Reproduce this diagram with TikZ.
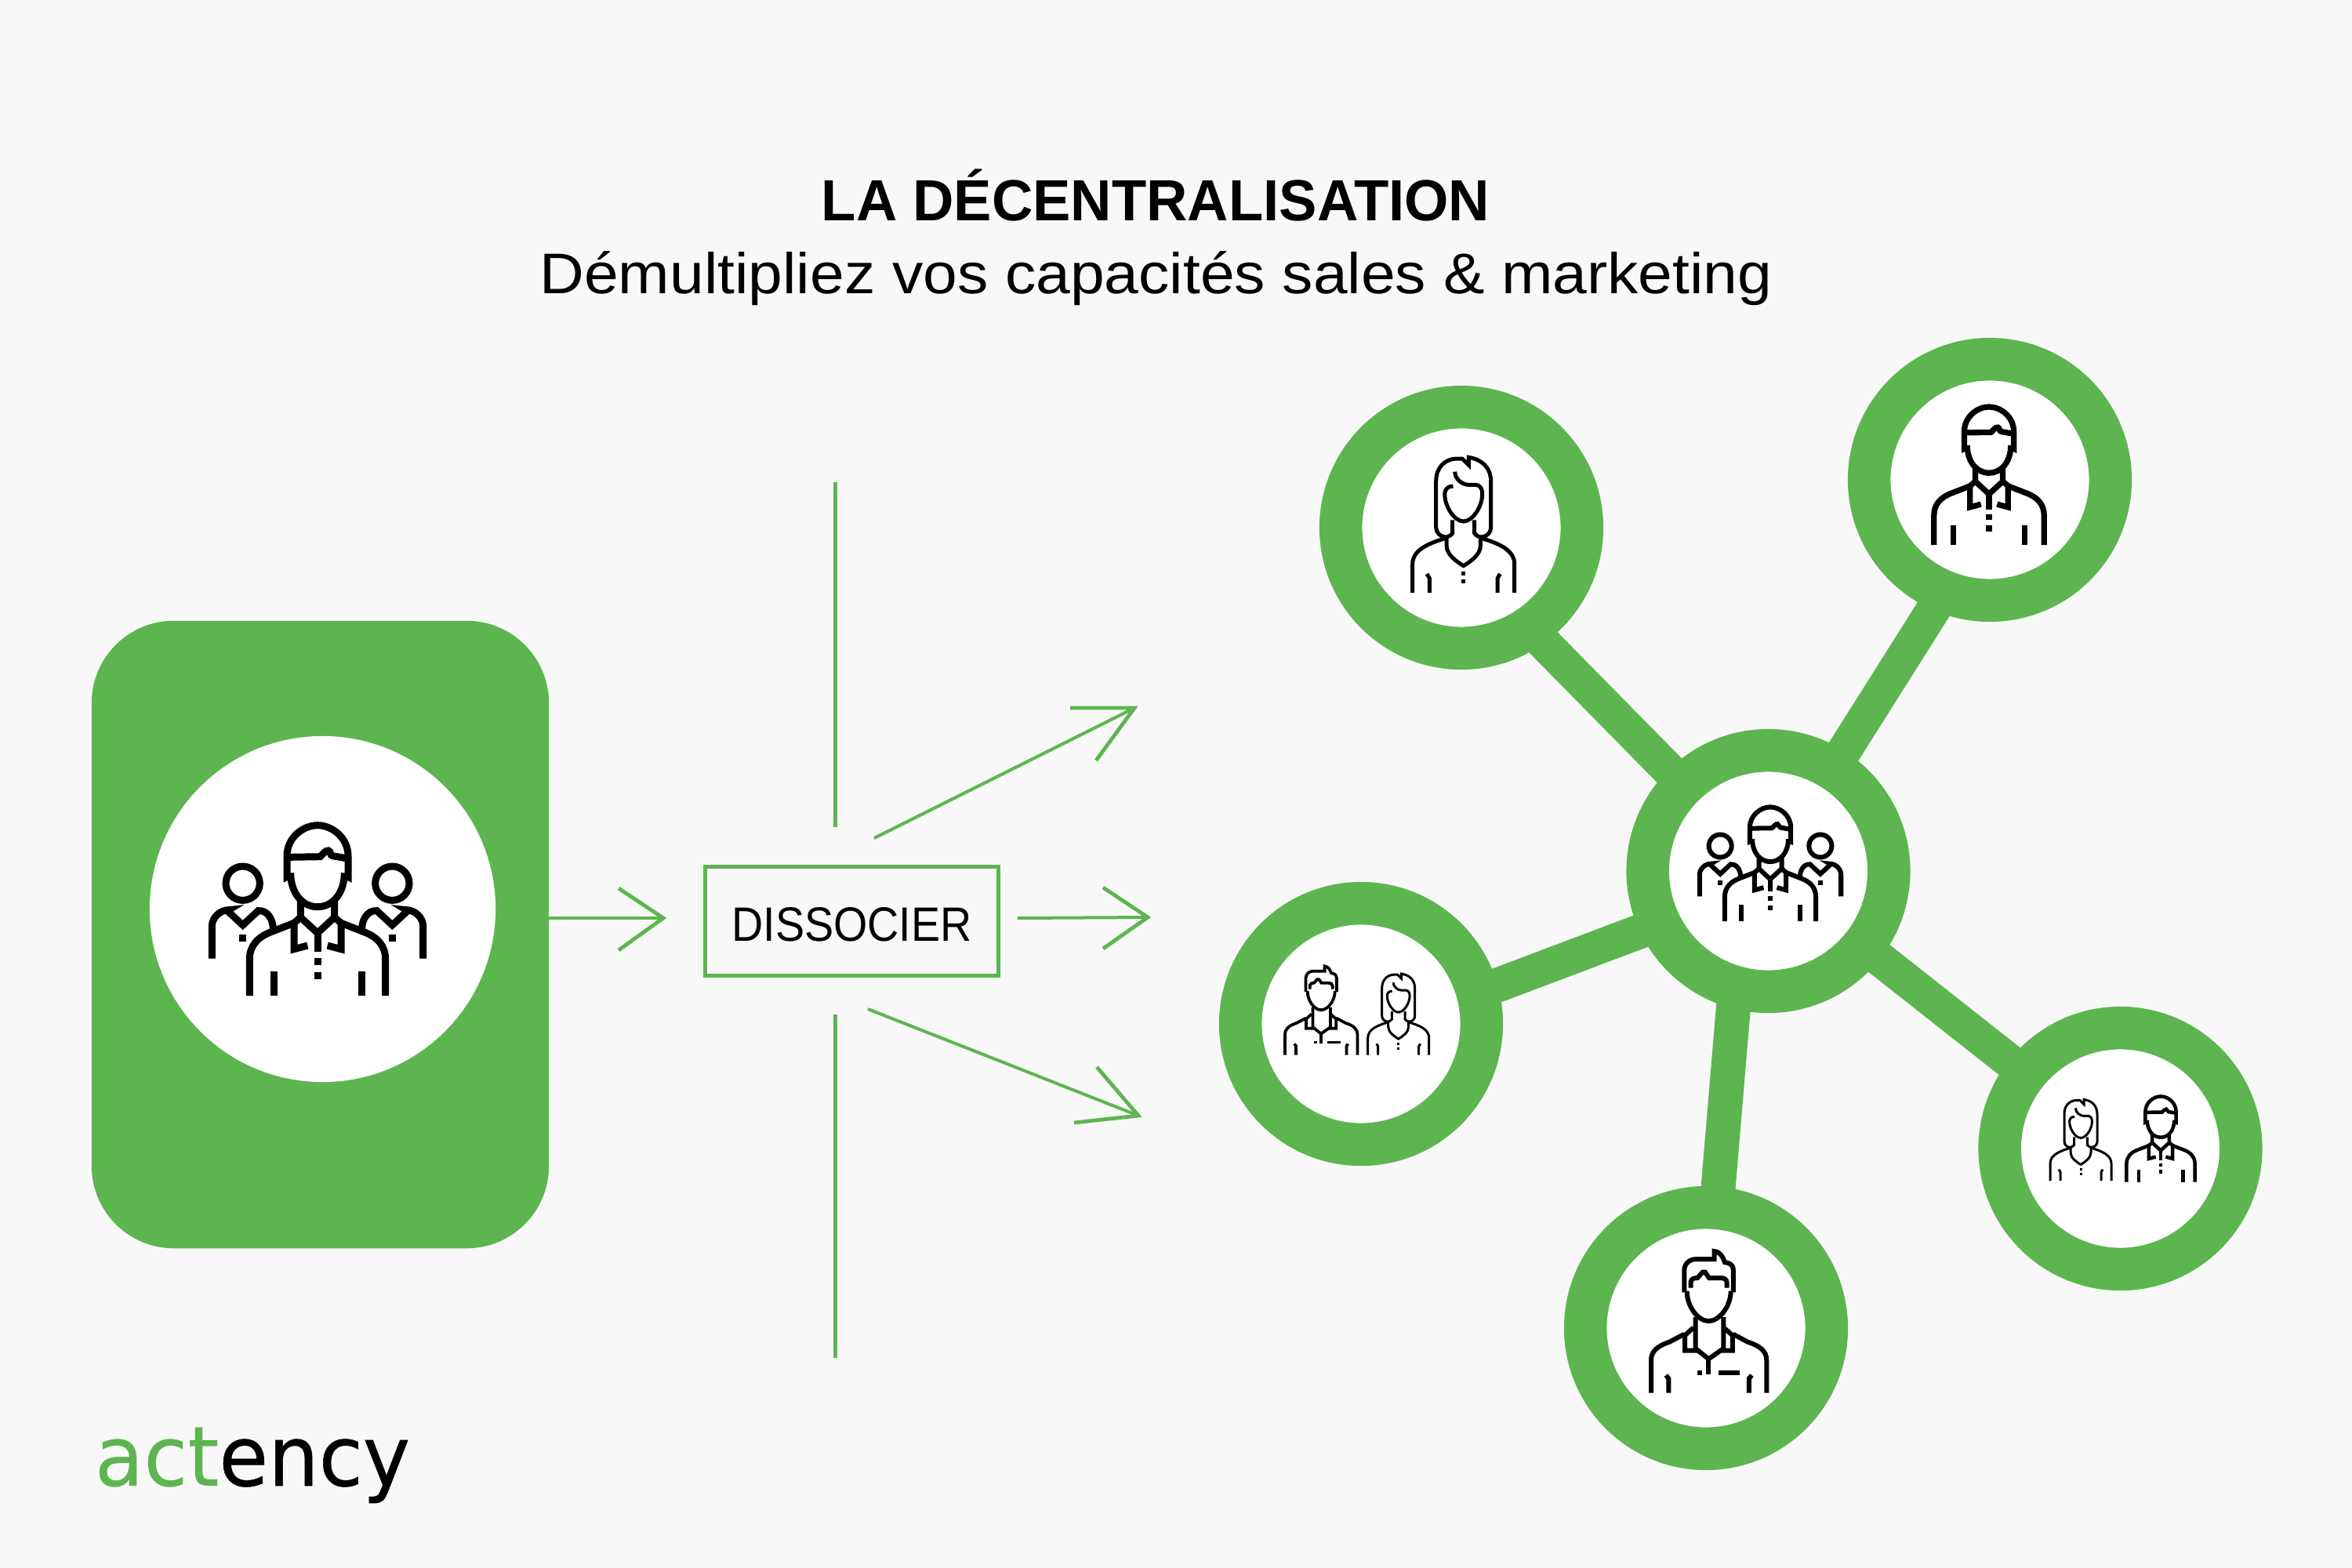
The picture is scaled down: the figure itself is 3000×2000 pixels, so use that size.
\documentclass[tikz,border=0pt]{standalone}
\usepackage{fontspec}
\setmainfont{Liberation Sans}
\newfontfamily\logofont[FakeBold=0.6]{DejaVu Sans}
\newfontfamily\logofontlight[FakeBold=0.25]{DejaVu Sans}
\definecolor{brandgreen}{HTML}{5DB550}
\definecolor{pagebg}{HTML}{F8F8F8}
\pgfdeclarelayer{back}
\pgfsetlayers{back,main}
\newcommand{\manAshape}{%
  \draw (-103,462) -- (-117,455) -- (-117,535) .. controls (-117,605) and (-55,652) .. (0,652) .. controls (55,652) and (117,605) .. (117,535) -- (117,455) -- (103,462);
  \draw (-115,530) -- (10,532) .. controls (20,540) and (30,558) .. (42,555) .. controls (52,552) and (46,538) .. (58,535) -- (115,525);
  \draw (-103,470) .. controls (-103,395) and (-60,340) .. (0,340) .. controls (60,340) and (103,395) .. (103,470);
  \draw (-65,372) -- (-65,300) -- (0,240) -- (65,300) -- (65,372);
  \draw (0,240) -- (0,168);
  \draw[miter limit=10] (-65,300) -- (-90,278) -- (-90,178) -- (-38,192);
  \draw[miter limit=10] (65,300) -- (90,278) -- (90,178) -- (38,192);
  \draw (-85,280) -- (-175,245) .. controls (-230,225) and (-260,190) .. (-260,140) -- (-260,0);
  \draw (85,280) -- (175,245) .. controls (230,225) and (260,190) .. (260,140) -- (260,0);
  \draw (-168,0) -- (-168,92);
  \draw (169,0) -- (169,92);
  \draw (0,117) -- (0,143);
  \draw (0,64) -- (0,91);
}
\newcommand{\sideshape}[1]{%
  \begin{scope}[xscale=#1]
  \draw (286,430) circle[radius=65];
  \draw (404,142) -- (404,265) .. controls (404,300) and (372,328) .. (340,328) -- (345,325) -- (286,270) -- (227,325) .. controls (190,328) and (170,290) .. (170,255);
  \draw (286,207) -- (286,233);
  \end{scope}
}
\tikzset{
  ringnode/.style={circle,draw=brandgreen,fill=white,line width=0.545cm,minimum size=3.075cm,inner sep=0pt,outer sep=0pt},
  spoke/.style={draw=brandgreen,line width=0.44cm},
  thinline/.style={draw=brandgreen,line width=0.04cm},
  headline/.style={draw=brandgreen,line width=0.048cm,miter limit=10},
  divider/.style={draw=brandgreen,line width=0.05cm},
  team/.pic={
    \begin{scope}[yscale=-1,line width={27*#1*0.01cm},black]
    \manAshape
    \sideshape{1}
    \sideshape{-1}
    \end{scope}
  },
  manA/.pic={
    \begin{scope}[yscale=-1,line width={27*#1*0.01cm},black]
    \manAshape
    \end{scope}
  },
  womanshape/.pic={
    \begin{scope}[yscale=-1,line width={15*#1*0.01cm},black]
    \draw (-42,278) -- (-42,228) .. controls (-48,218) and (-60,213) .. (-70,213) .. controls (-90,215) and (-105,230) .. (-105,250) -- (-105,428) .. controls (-105,480) and (-70,513) .. (-25,513) -- (-5,513) -- (20,488) -- (20,518) .. controls (70,510) and (105,480) .. (105,423) -- (105,250) .. controls (105,230) and (90,215) .. (70,213) .. controls (60,213) and (48,218) .. (42,228) -- (42,278);
    \draw (-33,463) .. controls (-33,435) and (-5,413) .. (20,413) -- (45,413) .. controls (62,413) and (72,400) .. (72,378) .. controls (72,330) and (35,273) .. (0,273) .. controls (-35,273) and (-72,330) .. (-72,378) .. controls (-72,395) and (-60,408) .. (-40,408);
    \draw (-65,210) -- (-65,180) .. controls (-65,145) and (-25,118) .. (0,103) .. controls (25,118) and (65,145) .. (65,180) -- (65,210);
    \draw (-70,208) .. controls (-130,190) and (-195,165) .. (-195,110) -- (-195,0);
    \draw (70,208) .. controls (130,190) and (195,165) .. (195,110) -- (195,0);
    \draw (-130,0) -- (-130,55) -- (-140,72);
    \draw (130,0) -- (130,55) -- (140,72);
    \draw (0,66) -- (0,81);
    \draw (0,36) -- (0,51);
    \end{scope}
  },
  manB/.pic={
    \begin{scope}[yscale=-1,line width={18*#1*0.01cm},black]
    \draw (-93,385) -- (-93,470) .. controls (-93,495) and (-72,512) .. (-48,512) -- (22,512) -- (22,542) .. controls (45,540) and (55,520) .. (62,500) .. controls (80,498) and (95,490) .. (95,470) -- (95,385);
    \draw (-68,402) -- (-68,425) .. controls (-66,438) and (-55,440) .. (-43,440) -- (-23,462) -- (-13,462) -- (2,440) -- (47,440) .. controls (60,440) and (70,435) .. (70,420) -- (70,402);
    \draw (-83,390) .. controls (-83,330) and (-40,275) .. (0,275) .. controls (40,275) and (85,330) .. (85,390);
    \draw (-50,290) -- (-50,170) -- (0,130) -- (57,170) -- (57,290);
    \draw (0,130) -- (0,70);
    \draw (-58,250) -- (-91,220) -- (-91,162) -- (-43,162);
    \draw (58,250) -- (92,220) -- (92,162) -- (43,162);
    \draw (-93,225) -- (-150,195) .. controls (-195,180) and (-220,160) .. (-220,125) -- (-220,0);
    \draw (94,225) -- (150,195) .. controls (197,180) and (222,160) .. (222,125) -- (222,0);
    \draw (-153,0) -- (-153,55) -- (-163,68);
    \draw (155,0) -- (155,55) -- (165,68);
    \draw (-42,78) -- (-24,78);
    \draw (37,78) -- (120,78);
    \end{scope}
  }
}
\begin{document}
\begin{tikzpicture}[x=0.01cm,y=-0.01cm]
\useasboundingbox (0,0) rectangle (3000,2000);
\begin{pgfonlayer}{back}
  \fill[pagebg] (0,0) rectangle (3000,2000);
\end{pgfonlayer}

% Title
\node[anchor=base,inner sep=0pt] (title) at (1474,281.7) {\fontsize{21.05pt}{25pt}\selectfont\bfseries\resizebox{8.52cm}{\height}{LA DÉCENTRALISATION}};
\node[anchor=base,inner sep=0pt] (subtitle) at (1474.5,374.5) {\fontsize{20.8pt}{25pt}\selectfont\resizebox{15.71cm}{\height}{Démultipliez vos capacités sales \& marketing}};

% Left block
\node[draw=none,fill=brandgreen,rounded corners=1.05cm,minimum width=5.83cm,minimum height=8cm,inner sep=0pt,outer sep=0pt] (block) at (408.5,1192) {};
\node[circle,fill=white,minimum size=4.41cm,inner sep=0pt] (blockcircle) at (411.5,1159.5) {};
\pic at (405,1270) [scale=0.3333] {team=0.3333};

% Box
\node[draw=brandgreen,line width=0.05cm,minimum width=3.74cm,minimum height=1.385cm,inner sep=0pt,outer sep=0pt,text height=0.512cm,text depth=0pt] (box) at (1086.5,1175) {\fontsize{17.5pt}{20pt}\selectfont\resizebox{3.06cm}{\height}{DISSOCIER}};

% Dividers
\coordinate (dua) at (1065.5,615);
\coordinate (dub) at (1065.5,1055);
\coordinate (dla) at (1065.5,1293.6);
\coordinate (dlb) at (1065.5,1732);
\draw[divider] (dua) -- (dub);
\draw[divider] (dla) -- (dlb);

% Arrows
\coordinate (aOneTip) at (846,1171);
\coordinate (aOneU) at (789,1133);
\coordinate (aOneL) at (789,1212);
\draw[thinline] (block.east |- aOneTip) -- (aOneTip);
\draw[headline] (aOneU) -- (aOneTip) -- (aOneL);

\coordinate (aTwoS) at (1298,1171);
\coordinate (aTwoTip) at (1464,1170);
\coordinate (aTwoU) at (1407,1132);
\coordinate (aTwoL) at (1407,1210);
\draw[thinline] (aTwoS) -- (aTwoTip);
\draw[headline] (aTwoU) -- (aTwoTip) -- (aTwoL);

\coordinate (aThrS) at (1115,1069);
\coordinate (aThrTip) at (1447,903);
\coordinate (aThrU) at (1365,903);
\coordinate (aThrL) at (1398,970);
\draw[thinline] (aThrS) -- (aThrTip);
\draw[headline] (aThrU) -- (aThrTip) -- (aThrL);

\coordinate (aFouS) at (1107,1287);
\coordinate (aFouTip) at (1452,1423);
\coordinate (aFouU) at (1399,1361);
\coordinate (aFouL) at (1370,1432);
\draw[thinline] (aFouS) -- (aFouTip);
\draw[headline] (aFouU) -- (aFouTip) -- (aFouL);

% Network
\node[ringnode] (hub) at (2255.5,1111) {};
\node[ringnode] (nw) at (1864,673) {};
\node[ringnode] (ne) at (2538,612) {};
\node[ringnode] (w) at (1736,1306) {};
\node[ringnode] (se) at (2704.5,1465) {};
\node[ringnode] (s) at (2176,1694) {};
\begin{pgfonlayer}{back}
  \draw[spoke] (hub.center) -- (nw.304.4);
  \draw[spoke] (hub.center) -- (ne.248.5);
  \draw[spoke] (hub.206.5) -- (w.15.7);
  \draw[spoke] (hub.254.5) -- (s.85.8);
  \draw[spoke] (hub.center) -- (se.center);
\end{pgfonlayer}

% Icons
\pic at (2258,1175) [scale=0.2233] {team=0.2233};
\pic at (2537,695) [scale=0.27] {manA=0.27};
\pic at (1866.7,756) [scale=0.3333] {womanshape=0.3333};
\pic at (2179.3,1776.7) [scale=0.3333] {manB=0.3333};
\pic at (1685,1345.7) [scale=0.209] {manB=0.209};
\pic at (1783.7,1345.7) [scale=0.2] {womanshape=0.2};
\pic at (2654,1506) [scale=0.2] {womanshape=0.2};
\pic at (2756,1507.7) [scale=0.1676] {manA=0.1676};

% Logo
\node[anchor=base,inner sep=0pt] (logo) at (322,1895) {\fontsize{30.16pt}{36pt}\selectfont\resizebox{4.02cm}{\height}{\logofontlight\textcolor{brandgreen}{act}\logofont\textcolor{black}{ency}}};
\end{tikzpicture}
\end{document}
